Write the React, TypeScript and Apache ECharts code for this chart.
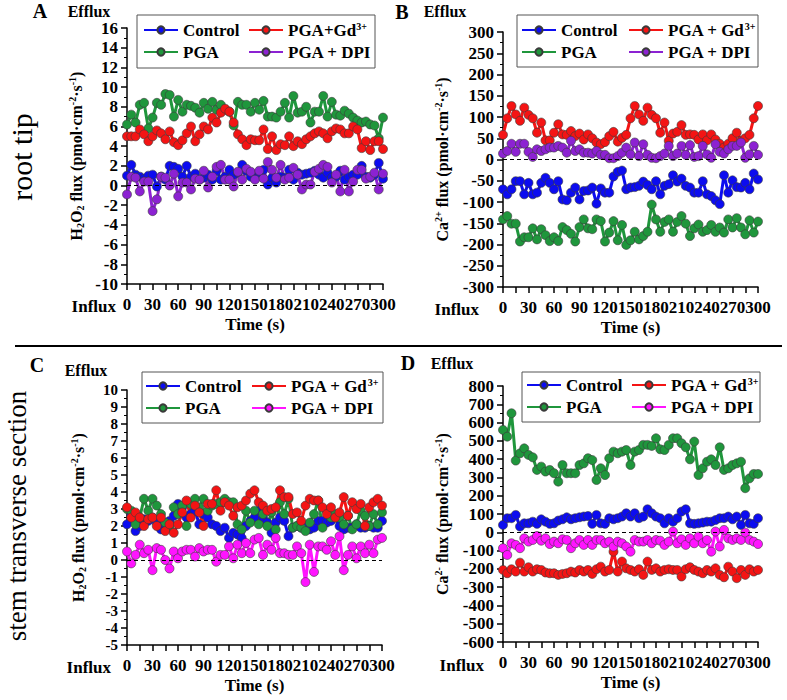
import React, { useEffect, useRef } from 'react';
import * as echarts from 'echarts';

const FONT = '"Liberation Serif", "Times New Roman", Times, serif';

const time = [0, 5, 10, 15, 20, 25, 30, 35, 40, 45, 50, 55, 60, 65, 70, 75, 80, 85, 90, 95, 100, 105, 110, 115, 120, 125, 130, 135, 140, 145, 150, 155, 160, 165, 170, 175, 180, 185, 190, 195, 200, 205, 210, 215, 220, 225, 230, 235, 240, 245, 250, 255, 260, 265, 270, 275, 280, 285, 290, 295, 300];

// Panel A: root tip, H2O2
const aControl = [1.0, 2.1, 1.1, 0.9, 0.7, 1.0, 1.1, -0.1, 0.9, 0.6, 2.0, 1.9, 1.7, 0.9, 2.0, 0.9, 1.2, 0.6, 0.8, 1.1, 0.6, 1.5, 0.6, 0.9, 1.6, 1.1, 1.3, 2.1, 1.5, 0.9, 1.1, 1.3, 1.6, 0.1, 0.8, 0.3, 0.9, 0.8, 1.6, 0.6, 1.3, 1.1, 1.2, 1.3, 1.5, 1.1, 0.8, 1.3, 0.8, 0.9, 1.5, 0.6, 0.9, 1.1, 1.1, 2.0, 0.9, 0.8, 1.1, 2.3, 0.7];
const aPGA = [6.2, 7.2, 6.4, 8.2, 8.4, 5.8, 6.9, 8.4, 8.2, 9.3, 9.2, 7.0, 8.7, 7.5, 8.2, 8.1, 7.9, 7.4, 8.4, 7.8, 8.5, 7.7, 8.2, 7.7, 7.5, 6.1, 8.5, 8.2, 8.2, 7.5, 8.4, 7.7, 8.6, 7.0, 7.0, 6.9, 7.5, 8.4, 6.9, 9.1, 7.4, 7.5, 8.0, 6.4, 7.5, 7.5, 9.1, 7.0, 8.5, 7.2, 7.1, 7.6, 7.3, 6.9, 6.6, 6.4, 6.5, 6.2, 6.1, 4.8, 6.9];
const aGd = [5.0, 5.0, 5.0, 5.7, 5.2, 4.5, 5.0, 5.6, 5.3, 4.7, 5.5, 4.4, 4.1, 4.6, 5.3, 6.0, 4.5, 5.2, 6.0, 5.7, 6.9, 6.4, 7.4, 7.8, 7.5, 6.4, 5.2, 4.7, 4.1, 4.7, 4.6, 4.6, 5.7, 3.7, 5.0, 3.6, 4.2, 4.1, 5.0, 4.0, 4.5, 4.2, 4.7, 5.0, 5.3, 5.5, 5.3, 4.8, 5.5, 5.8, 5.7, 5.3, 5.3, 6.0, 5.7, 3.8, 4.5, 3.6, 4.5, 4.5, 3.7];
const aDPI = [-0.9, 0.9, 0.8, -0.6, 0.4, 0.4, -2.6, -1.4, 0.9, 0.8, 0.0, 1.2, -1.1, 0.3, 0.3, -0.4, 0.7, 0.6, 1.5, -0.2, 0.9, 1.9, 2.1, 0.6, 0.6, -0.1, 1.4, 0.6, 1.7, 1.4, 0.6, 1.5, 0.7, 2.4, 1.6, 0.8, 2.1, 0.6, 0.8, 1.8, 1.1, -0.4, 0.1, 0.1, 1.4, 1.7, 2.1, 1.9, 0.3, 1.1, -0.6, 1.6, -0.6, 0.4, 1.6, 1.6, 0.7, 0.9, 1.3, -0.4, 1.2];

// Panel B: root tip, Ca2+
const bControl = [-70, -82, -70, -51, -51, -82, -55, -82, -78, -55, -43, -55, -70, -51, -94, -96, -78, -66, -94, -74, -73, -66, -104, -68, -78, -78, -40, -29, -26, -70, -66, -65, -62, -52, -60, -70, -51, -82, -62, -58, -37, -52, -45, -62, -66, -78, -78, -51, -82, -86, -96, -105, -37, -78, -49, -65, -66, -55, -70, -33, -47];
const bPGA = [-141, -133, -151, -151, -193, -183, -183, -162, -188, -164, -178, -192, -183, -192, -159, -166, -175, -193, -159, -141, -162, -164, -141, -145, -193, -172, -145, -190, -154, -201, -190, -170, -188, -180, -170, -106, -141, -170, -147, -141, -170, -147, -133, -151, -180, -162, -153, -170, -166, -154, -170, -160, -172, -141, -160, -138, -160, -176, -143, -172, -146];
const bGd = [58, 97, 126, 106, 91, 122, 105, 97, 63, 87, 45, 45, 63, 83, 59, 58, 67, 55, 61, 47, 59, 50, 40, 36, 41, 55, 65, 42, 51, 58, 97, 126, 106, 91, 122, 105, 97, 63, 87, 44, 61, 65, 81, 58, 59, 58, 47, 59, 45, 59, 47, 37, 28, 37, 50, 63, 44, 50, 58, 97, 126];
const bDPI = [14, 20, 37, 18, 37, 37, 18, 6, 24, 20, 24, 28, 28, 32, 28, 16, 44, 20, 24, 16, 16, 14, 20, 11, 11, 3, 3, 8, 16, 28, 12, 40, 8, 36, 11, 4, 3, 8, 14, 32, 8, 14, 32, 11, 34, 6, 8, 32, 12, 4, 36, 18, 14, 24, 32, 32, 40, 4, 12, 32, 11];

// Panel C: stem transverse section, H2O2
const cControl = [2.1, 2.6, 1.7, 2.0, 2.4, 2.3, 2.5, 2.2, 1.8, 2.0, 2.3, 2.6, 3.3, 3.1, 2.5, 2.7, 2.9, 2.1, 2.7, 2.5, 2.1, 2.0, 1.7, 1.9, 1.3, 1.6, 1.5, 1.3, 2.0, 2.3, 2.5, 2.9, 2.5, 2.2, 1.6, 2.2, 2.5, 2.3, 1.4, 1.9, 2.0, 1.9, 2.0, 1.8, 1.9, 2.3, 2.3, 2.2, 2.3, 2.5, 2.0, 1.8, 1.9, 1.9, 2.1, 1.9, 1.9, 2.0, 1.9, 1.9, 2.3];
const cPGA = [3.0, 2.9, 2.1, 2.5, 3.6, 2.9, 3.6, 3.2, 2.7, 2.2, 1.9, 3.1, 2.7, 3.2, 2.0, 3.3, 3.6, 3.1, 3.6, 2.9, 3.2, 3.3, 3.4, 3.6, 3.4, 3.4, 2.1, 1.8, 2.9, 2.2, 2.9, 2.1, 2.7, 2.0, 2.8, 1.8, 3.4, 2.7, 3.6, 1.9, 2.0, 1.9, 1.7, 2.2, 2.7, 3.5, 1.9, 2.9, 2.5, 2.7, 2.5, 2.1, 2.6, 1.8, 2.1, 2.9, 2.6, 2.0, 2.7, 2.1, 2.8];
const cGd = [3.1, 2.5, 2.8, 2.5, 2.0, 2.4, 2.5, 2.0, 2.5, 1.7, 2.1, 1.6, 2.1, 2.8, 3.5, 2.5, 3.2, 2.8, 2.0, 3.3, 3.3, 4.1, 2.9, 3.4, 3.2, 2.6, 3.1, 3.2, 3.5, 3.9, 4.1, 3.4, 3.2, 2.9, 3.0, 3.1, 4.1, 3.7, 3.7, 2.7, 2.8, 2.3, 3.2, 3.6, 3.5, 3.5, 3.1, 2.7, 3.1, 2.5, 2.8, 3.7, 2.6, 3.4, 3.0, 3.3, 2.0, 3.1, 3.4, 3.6, 3.2];
const cDPI = [0.5, -0.2, 0.3, 0.9, 0.4, 0.6, -0.6, 0.7, 0.6, 0.0, -0.5, 0.5, 0.1, 0.5, 0.6, 0.6, 0.2, 0.7, 0.5, 0.6, 0.6, -0.1, 0.3, 0.3, 0.8, 0.1, 0.9, 0.4, 1.0, 0.4, 1.2, 1.3, 0.3, 0.9, 0.6, 1.3, 0.4, 0.4, 0.3, 0.3, 0.8, 0.4, -1.3, 0.9, -0.7, 0.8, 0.8, 0.6, 1.1, 0.3, 1.4, -0.6, 0.3, 0.8, 0.1, 0.8, 0.4, 0.9, 0.4, 1.2, 1.3];

// Panel D: stem transverse section, Ca2+
const dControl = [40, 77, 77, 95, 31, 49, 49, 58, 46, 71, 58, 46, 49, 64, 71, 82, 71, 77, 82, 86, 89, 46, 95, 49, 46, 77, 71, 77, 86, 104, 86, 104, 77, 86, 126, 104, 86, 77, 49, 77, 58, 77, 113, 126, 49, 46, 49, 53, 58, 58, 67, 77, 77, 86, 71, 86, 40, 95, 49, 46, 77];
const dPGA = [560, 523, 651, 392, 432, 459, 423, 410, 341, 359, 332, 341, 323, 277, 368, 323, 323, 323, 368, 377, 405, 395, 286, 350, 313, 405, 441, 432, 441, 450, 368, 441, 450, 478, 478, 472, 514, 454, 450, 478, 514, 514, 487, 465, 399, 496, 313, 350, 386, 399, 368, 465, 341, 350, 368, 377, 386, 241, 295, 319, 319];
const dGd = [-206, -224, -202, -215, -166, -215, -191, -215, -202, -206, -220, -224, -224, -233, -228, -224, -215, -220, -206, -215, -206, -228, -202, -188, -215, -206, -106, -215, -160, -197, -206, -215, -202, -233, -160, -206, -197, -215, -206, -202, -206, -206, -242, -202, -191, -206, -215, -224, -206, -215, -197, -233, -246, -188, -215, -251, -206, -233, -202, -215, -206];
const dDPI = [-87, -124, -60, -69, -87, -33, -51, -42, -20, -46, -33, -64, -51, -60, -38, -42, -87, -60, -42, -69, -42, -69, -42, -42, -60, -51, -78, -51, -60, -78, -106, -42, -51, -51, -42, -60, -42, -46, -69, -51, 4, -60, -38, -69, -33, -60, -24, -60, -42, -106, 4, -78, 13, -33, -42, -33, -42, -2, -42, -51, -64];

const xTicks = ['0', '30', '60', '90', '120', '150', '180', '210', '240', '270', '300'];

const BLUE = '#0c0cf0';
const RED = '#f41414';
const GREEN = '#1f963c';
const PURPLE = '#8c22d2';
const MAGENTA = '#ff14ff';

const boldText = (size: number) => ({ fontFamily: FONT, fontWeight: 'bold' as const, fontSize: size, color: '#000' });

function mkSeries(name: string, color: string, vals: number[], idx: number, zero = false) {
  const s: any = {
    type: 'line',
    name,
    xAxisIndex: idx,
    yAxisIndex: idx,
    data: time.map((t, i) => [t, vals[i]]),
    symbol: 'circle',
    symbolSize: 9,
    lineStyle: { color, width: 3 },
    itemStyle: { color, borderColor: '#3a3a3a', borderWidth: 0.6 },
    emphasis: { disabled: true },
    silent: true,
  };
  if (zero) {
    s.markLine = {
      silent: true,
      symbol: ['none', 'none'],
      label: { show: false },
      lineStyle: { type: [4, 3], color: '#000', width: 1.2 },
      data: [{ yAxis: 0 }],
    };
  }
  return s;
}

function xAxis(idx: number) {
  return {
    type: 'value',
    gridIndex: idx,
    min: 0,
    max: 300,
    interval: 15,
    axisLine: { show: true, onZero: false, lineStyle: { color: '#000', width: 1.5 } },
    axisTick: { show: true, length: 6, lineStyle: { color: '#000', width: 1.5 } },
    splitLine: { show: false },
    axisLabel: {
      ...boldText(17),
      margin: 12,
      formatter: (v: number) => (xTicks.includes(String(v)) ? String(v) : ''),
    },
    name: 'Time (s)',
    nameLocation: 'middle',
    nameGap: 32,
    nameTextStyle: boldText(17),
  };
}

const nameRich = {
  n: { fontFamily: FONT, fontWeight: 'bold', fontSize: 16, lineHeight: 18, color: '#000' },
  sb: { fontFamily: FONT, fontWeight: 'bold', fontSize: 10, lineHeight: 10, verticalAlign: 'bottom', color: '#000' },
  sp: { fontFamily: FONT, fontWeight: 'bold', fontSize: 10, lineHeight: 10, verticalAlign: 'top', color: '#000' },
};

const H2O2_NAME = '{n|H}{sb|2}{n|O}{sb|2}{n| flux (pmol·cm}{sp|-2}{n|·s}{sp|-1}{n|)}';
const CA_NAME = '{n|Ca}{sp|2+}{n| flux (pmol·cm}{sp|-2}{n|·s}{sp|-1}{n|)}';
const CA_NAME_D = '{n|Ca}{sp|2-}{n| flux (pmol·cm}{sp|-2}{n|·s}{sp|-1}{n|)}';

function yAxis(idx: number, min: number, max: number, interval: number, name: string, gap: number, labelSize = 17) {
  return {
    type: 'value',
    gridIndex: idx,
    min,
    max,
    interval,
    axisLine: { show: true, lineStyle: { color: '#000', width: 1.5 } },
    axisTick: { show: true, length: 6, lineStyle: { color: '#000', width: 1.5 } },
    minorTick: { show: true, splitNumber: 2, length: 3, lineStyle: { color: '#000', width: 1 } },
    splitLine: { show: false },
    minorSplitLine: { show: false },
    axisLabel: { ...boldText(labelSize), lineHeight: 13, margin: 9 },
    name,
    nameLocation: 'middle',
    nameRotate: 90,
    nameGap: gap,
    nameTextStyle: { ...boldText(16), rich: nameRich },
  };
}

const legendText = {
  ...boldText(17),
  lineHeight: 18,
  rich: { sup: { fontFamily: FONT, fontWeight: 'bold', fontSize: 10, lineHeight: 10, verticalAlign: 'top', color: '#000' } },
};

function legend(left: number, top: number, data: any[]) {
  return {
    orient: 'vertical',
    left,
    top,
    padding: 0,
    itemGap: 4,
    itemWidth: 34,
    itemHeight: 9,
    selectedMode: false,
    data,
    textStyle: legendText,
    formatter: (name: string) => name.replace('³⁺', '{sup|3+}'),
  };
}

const magentaItem = { name: 'PGA + DPI', itemStyle: { color: MAGENTA }, lineStyle: { color: MAGENTA } };
const purpleItem = { name: 'PGA + DPI', itemStyle: { color: PURPLE }, lineStyle: { color: PURPLE } };

function txt(x: number, y: number, text: string, size: number, bold = true, align = 'center', rotation = 0) {
  return {
    type: 'text',
    x,
    y,
    rotation,
    silent: true,
    style: {
      text,
      fontFamily: FONT,
      fontWeight: bold ? 'bold' : 'normal',
      fontSize: size,
      fill: '#000',
      align,
      verticalAlign: 'middle',
    },
  };
}

function box(x: number, y: number, w: number, h: number) {
  return { type: 'rect', silent: true, shape: { x, y, width: w, height: h }, style: { fill: 'none', stroke: '#555', lineWidth: 1 } };
}

export default function App() {
  const ref = useRef<HTMLDivElement>(null);
  useEffect(() => {
    const chart = echarts.init(ref.current!, null, { renderer: 'svg' });
    const option: any = {
      animation: false,
      grid: [
        { left: 127, top: 28, width: 256, height: 256 },
        { left: 503, top: 32, width: 255, height: 255 },
        { left: 127, top: 390, width: 255, height: 255 },
        { left: 503, top: 386, width: 255, height: 256 },
      ],
      xAxis: [xAxis(0), xAxis(1), xAxis(2), xAxis(3)],
      yAxis: [
        yAxis(0, -10, 16, 2, H2O2_NAME, 42),
        yAxis(1, -300, 300, 50, CA_NAME, 52),
        yAxis(2, -5, 10, 1, H2O2_NAME, 40, 15),
        yAxis(3, -600, 800, 100, CA_NAME_D, 52),
      ],
      legend: [
        legend(143, 21, ['Control', 'PGA']),
        legend(248, 21, ['PGA+Gd³⁺', purpleItem]),
        legend(521, 21, ['Control', 'PGA']),
        legend(628, 21, ['PGA + Gd³⁺', purpleItem]),
        legend(145, 377, ['Control', 'PGA']),
        legend(251, 377, ['PGA + Gd³⁺', magentaItem]),
        legend(526, 376, ['Control', 'PGA']),
        legend(631, 376, ['PGA + Gd³⁺', magentaItem]),
      ],
      series: [
        mkSeries('Control', BLUE, aControl, 0, true),
        mkSeries('PGA', GREEN, aPGA, 0),
        mkSeries('PGA+Gd³⁺', RED, aGd, 0),
        mkSeries('PGA + DPI', PURPLE, aDPI, 0),
        mkSeries('Control', BLUE, bControl, 1, true),
        mkSeries('PGA', GREEN, bPGA, 1),
        mkSeries('PGA + Gd³⁺', RED, bGd, 1),
        mkSeries('PGA + DPI', PURPLE, bDPI, 1),
        mkSeries('Control', BLUE, cControl, 2, true),
        mkSeries('PGA', GREEN, cPGA, 2),
        mkSeries('PGA + Gd³⁺', RED, cGd, 2),
        mkSeries('PGA + DPI', MAGENTA, cDPI, 2),
        mkSeries('Control', BLUE, dControl, 3, true),
        mkSeries('PGA', GREEN, dPGA, 3),
        mkSeries('PGA + Gd³⁺', RED, dGd, 3),
        mkSeries('PGA + DPI', MAGENTA, dDPI, 3),
      ],
      graphic: [
        { type: 'line', silent: true, shape: { x1: 15, y1: 346, x2: 782, y2: 346 }, style: { stroke: '#000', lineWidth: 2 } },
        box(137, 15, 238, 53),
        box(517, 15, 241, 52),
        box(142, 372, 241, 51),
        box(522, 372, 238, 50),
        txt(40, 11, 'A', 20),
        txt(89, 11, 'Efflux', 16),
        txt(402, 12, 'B', 20),
        txt(445, 11, 'Efflux', 16),
        txt(37, 365, 'C', 20),
        txt(86, 370, 'Efflux', 16),
        txt(408, 363, 'D', 20),
        txt(452, 363, 'Efflux', 16),
        txt(116, 306, 'Influx', 17, true, 'right'),
        txt(479, 309, 'Influx', 17, true, 'right'),
        txt(111, 667, 'Influx', 17, true, 'right'),
        txt(484, 665, 'Influx', 17, true, 'right'),
        txt(21, 157, 'root tip', 30, false, 'center', Math.PI / 2),
        txt(17, 516, 'stem transverse section', 27, false, 'center', Math.PI / 2),
      ],
    };
    chart.setOption(option);
    return () => chart.dispose();
  }, []);
  return <div ref={ref} style={{ position: 'absolute', left: 0, top: 0, width: 787, height: 700 }} />;
}
